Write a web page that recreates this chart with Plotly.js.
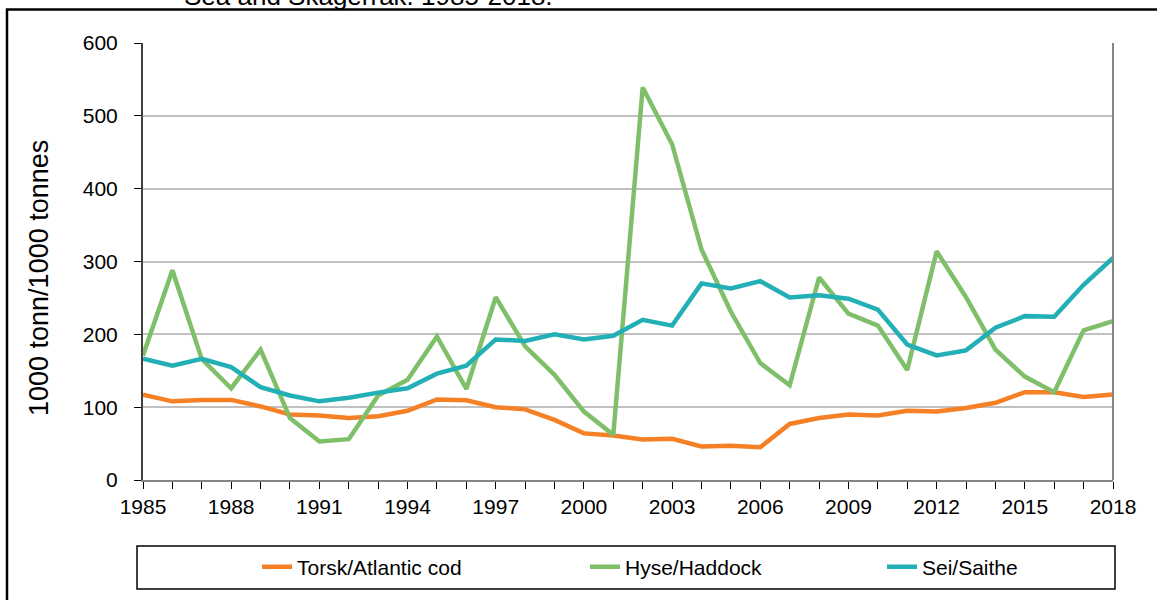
<!DOCTYPE html>
<html>
<head>
<meta charset="utf-8">
<script src="https://cdn.plot.ly/plotly-3.0.1.min.js"></script>
<style>
  html, body { margin: 0; padding: 0; background: #ffffff; }
  #chart { width: 1157px; height: 600px; }
</style>
</head>
<body>
<div id="chart"></div>
<script>
// ---- Data (1000 tonnes) ----
var years = [1985, 1986, 1987, 1988, 1989, 1990, 1991, 1992, 1993, 1994, 1995, 1996,
             1997, 1998, 1999, 2000, 2001, 2002, 2003, 2004, 2005, 2006, 2007, 2008,
             2009, 2010, 2011, 2012, 2013, 2014, 2015, 2016, 2017, 2018];

var cod = [117, 108, 110, 110, 101, 90, 88.5, 85, 87.5, 95, 110.5, 109.5,
           100, 97, 82.5, 64, 61, 55.5, 56.5, 46, 47, 45, 77, 85,
           90, 88.5, 95, 94, 99, 106, 120.5, 120.5, 114, 117.5];

var haddock = [171, 288, 166, 126, 179, 85, 53, 56, 116, 137.5, 197, 125,
               251, 183.5, 144.5, 94, 62, 539, 461, 316.5, 231, 160.5, 130, 278,
               228.5, 212, 151, 314, 251, 179, 142, 120.5, 205.5, 218];

var saithe = [166.5, 157, 166.5, 155, 127.5, 116, 108, 113, 120, 126, 146, 157,
              193, 191, 200, 193, 198, 220, 212, 270, 263, 273, 250.5, 253.5,
              249, 234, 186, 171, 178, 209, 225, 224, 268, 305];

var seriesNames = ["Torsk/Atlantic cod", "Hyse/Haddock", "Sei/Saithe"];
var seriesColors = ["#F58025", "#7FBF6A", "#23AFB6"];
var legendIds = ["legend", "legend2", "legend3"];

var xTickVals = [1985, 1988, 1991, 1994, 1997, 2000, 2003, 2006, 2009, 2012, 2015, 2018];
var xTickText = ["1985", "1988", "1991", "1994", "1997", "2000", "2003", "2006", "2009", "2012", "2015", "2018"];
var yTickVals = [0, 100, 200, 300, 400, 500, 600];

var titleText = "Sea and Skagerrak. 1985-2018.";
var yTitle = "1000 tonn/1000 tonnes";

// ---- Build traces ----
var seriesValues = [cod, haddock, saithe];
var traces = seriesValues.map(function (vals, i) {
  return {
    type: "scatter",
    mode: "lines",
    x: years,
    y: vals,
    name: seriesNames[i],
    legend: legendIds[i],
    line: { color: seriesColors[i], width: 4.5 },
    hoverinfo: "skip"
  };
});

// pixel -> paper helpers (plot area: x 143..1113, y 43..480)
function px(x) { return (x - 143) / 970; }
function py(y) { return (480 - y) / 437; }
// pixel -> container helpers
function cx(x) { return x / 1157; }
function cy(y) { return (600 - y) / 600; }

var font = "Arial, 'Liberation Sans', sans-serif";

function legendAt(xPix) {
  return {
    orientation: "h",
    xref: "container", yref: "container",
    x: cx(xPix), xanchor: "left",
    y: cy(567), yanchor: "middle",
    font: { family: font, size: 21, color: "#000000" },
    bgcolor: "rgba(0,0,0,0)",
    borderwidth: 0
  };
}

var layout = {
  width: 1157,
  height: 600,
  margin: { l: 143, r: 44, t: 43, b: 120, pad: 0 },
  paper_bgcolor: "#ffffff",
  plot_bgcolor: "#ffffff",
  font: { family: font, size: 21, color: "#000000" },
  showlegend: true,
  legend: legendAt(257),
  legend2: legendAt(585),
  legend3: legendAt(882),
  xaxis: {
    range: [1985, 2018],
    tickmode: "array",
    tickvals: xTickVals,
    ticktext: xTickText,
    ticks: "outside",
    ticklen: 7,
    tickwidth: 1,
    tickcolor: "#000000",
    minor: { dtick: 1, tick0: 1985, ticks: "outside", ticklen: 7, tickwidth: 1, tickcolor: "#000000", showgrid: false },
    showgrid: false,
    zeroline: false,
    showline: true,
    linecolor: "#868686",
    linewidth: 2,
    tickfont: { family: font, size: 21, color: "#000000" },
    fixedrange: true
  },
  yaxis: {
    range: [0, 600],
    tickmode: "array",
    tickvals: yTickVals,
    ticks: "outside",
    ticklen: 7,
    tickwidth: 1,
    tickcolor: "#000000",
    ticklabelstandoff: 12,
    showgrid: true,
    gridcolor: "#C0C0C0",
    gridwidth: 2,
    zeroline: false,
    showline: true,
    linecolor: "#404040",
    linewidth: 2,
    tickfont: { family: font, size: 21, color: "#000000" },
    fixedrange: true
  },
  shapes: [
    // right border of plot area
    { type: "line", xref: "paper", yref: "paper", x0: 1, x1: 1, y0: 0, y1: 1,
      line: { color: "#868686", width: 2 } },
    // legend box
    { type: "rect", xref: "paper", yref: "paper",
      x0: px(137), x1: px(1115), y0: py(589), y1: py(546),
      line: { color: "#000000", width: 1.5 }, fillcolor: "rgba(0,0,0,0)", layer: "below" },
    // outer chart border
    { type: "rect", xref: "paper", yref: "paper",
      x0: px(7), x1: px(1170), y0: py(615), y1: py(9.5),
      line: { color: "#000000", width: 2.5 }, fillcolor: "rgba(0,0,0,0)", layer: "below" }
  ],
  annotations: [
    { xref: "paper", yref: "paper", x: px(368), y: py(13), xanchor: "center", yanchor: "bottom",
      text: titleText, showarrow: false,
      font: { family: font, size: 26, color: "#000000" } },
    { xref: "paper", yref: "paper", x: px(39), y: py(278), xanchor: "center", yanchor: "middle",
      text: yTitle, textangle: -90, showarrow: false,
      font: { family: font, size: 27, color: "#000000" } }
  ]
};

Plotly.newPlot("chart", traces, layout, { displayModeBar: false, staticPlot: true });
</script>
</body>
</html>
